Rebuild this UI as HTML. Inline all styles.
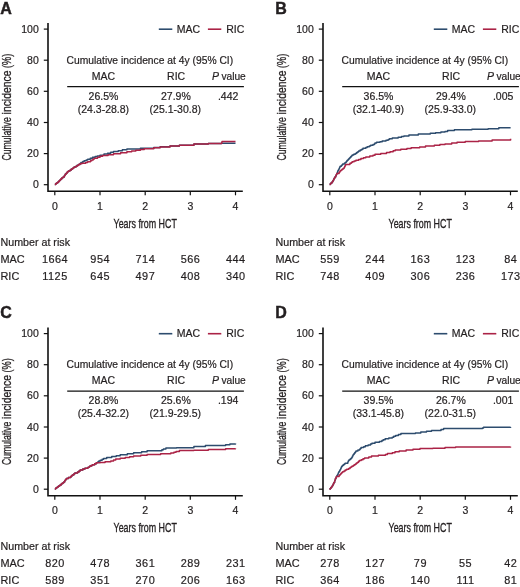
<!DOCTYPE html>
<html><head><meta charset="utf-8"><title>Cumulative incidence</title>
<style>
html,body{margin:0;padding:0;background:#fff;}
body{width:520px;height:587px;overflow:hidden;}
svg{display:block;will-change:transform;font-family:"Liberation Sans", sans-serif;fill:#231f20;}
text{stroke:#231f20;stroke-width:0.2px;}
.yl text{stroke-width:0.3px;}
.pl{stroke-width:0.45px;}
</style></head><body>
<svg width="520" height="587" viewBox="0 0 520 587">
<g>
<text x="0.2" y="13.6" font-size="16" text-anchor="start" font-weight="bold" class="pl">A</text>
<path d="M48.0 23.0V191.2H242.8" fill="none" stroke="#111" stroke-width="1.6"/>
<path d="M43.8 29.1H48.0" stroke="#111" stroke-width="1.2"/>
<text x="38.8" y="32.7" font-size="10.5" text-anchor="end">100</text>
<path d="M43.8 60.2H48.0" stroke="#111" stroke-width="1.2"/>
<text x="38.8" y="63.8" font-size="10.5" text-anchor="end">80</text>
<path d="M43.8 91.3H48.0" stroke="#111" stroke-width="1.2"/>
<text x="38.8" y="94.9" font-size="10.5" text-anchor="end">60</text>
<path d="M43.8 122.5H48.0" stroke="#111" stroke-width="1.2"/>
<text x="38.8" y="126.1" font-size="10.5" text-anchor="end">40</text>
<path d="M43.8 153.6H48.0" stroke="#111" stroke-width="1.2"/>
<text x="38.8" y="157.2" font-size="10.5" text-anchor="end">20</text>
<path d="M43.8 184.7H48.0" stroke="#111" stroke-width="1.2"/>
<text x="38.8" y="188.3" font-size="10.5" text-anchor="end">0</text>
<path d="M54.8 191.0V195.3" stroke="#111" stroke-width="1.2"/>
<text x="54.8" y="209.7" font-size="10.5" text-anchor="middle">0</text>
<path d="M100.0 191.0V195.3" stroke="#111" stroke-width="1.2"/>
<text x="100.0" y="209.7" font-size="10.5" text-anchor="middle">1</text>
<path d="M145.2 191.0V195.3" stroke="#111" stroke-width="1.2"/>
<text x="145.2" y="209.7" font-size="10.5" text-anchor="middle">2</text>
<path d="M190.3 191.0V195.3" stroke="#111" stroke-width="1.2"/>
<text x="190.3" y="209.7" font-size="10.5" text-anchor="middle">3</text>
<path d="M235.5 191.0V195.3" stroke="#111" stroke-width="1.2"/>
<text x="235.5" y="209.7" font-size="10.5" text-anchor="middle">4</text>
<text x="0" y="0" font-size="13" style="stroke-width:0.35px" text-anchor="middle" transform="translate(145.2 227.8) scale(0.684 1)">Years from HCT</text>
<g class="yl" font-size="13.6" transform="translate(11.4 160.2) rotate(-90)"><text x="-0.3" y="0" textLength="43.2" lengthAdjust="spacingAndGlyphs">Cumulative</text><text x="45.8" y="0" textLength="43.8" lengthAdjust="spacingAndGlyphs">incidence</text><text x="92.2" y="0" textLength="14.2" lengthAdjust="spacingAndGlyphs">(%)</text></g>
<path d="M158.8 29.2H172.3" stroke="#2d4c6e" stroke-width="1.6"/>
<text x="176.8" y="32.6" font-size="10.5" text-anchor="start">MAC</text>
<path d="M207.9 29.2H221.3" stroke="#ab2346" stroke-width="1.6"/>
<text x="226.2" y="32.6" font-size="10.5" text-anchor="start">RIC</text>
<text x="66.6" y="63.5" font-size="10.3" text-anchor="start">Cumulative incidence at 4y (95% CI)</text>
<text x="103.5" y="79.7" font-size="10.5" text-anchor="middle">MAC</text>
<text x="176.1" y="79.7" font-size="10.5" text-anchor="middle">RIC</text>
<text x="211.9" y="79.7" font-size="10.5" text-anchor="start" font-style="italic">P</text>
<text x="221.4" y="79.7" font-size="10.2" text-anchor="start">value</text>
<path d="M67.2 86.6H243.9" stroke="#111" stroke-width="1.4"/>
<text x="103.5" y="99.9" font-size="10.5" text-anchor="middle">26.5%</text>
<text x="103.4" y="112.8" font-size="10.5" text-anchor="middle">(24.3-28.8)</text>
<text x="175.9" y="99.9" font-size="10.5" text-anchor="middle">27.9%</text>
<text x="175.3" y="112.8" font-size="10.5" text-anchor="middle">(25.1-30.8)</text>
<text x="228.1" y="99.9" font-size="10.5" text-anchor="middle">.442</text>
<text x="0.5" y="245.9" font-size="10.7" text-anchor="start">Number at risk</text>
<text x="0.5" y="262.7" font-size="10.9" text-anchor="start">MAC</text>
<text x="0.5" y="279.6" font-size="10.9" text-anchor="start">RIC</text>
<text x="55.0" y="262.7" font-size="10.9" text-anchor="middle" letter-spacing="0.5">1664</text>
<text x="55.0" y="279.6" font-size="10.9" text-anchor="middle" letter-spacing="0.5">1125</text>
<text x="100.2" y="262.7" font-size="10.9" text-anchor="middle" letter-spacing="0.5">954</text>
<text x="100.2" y="279.6" font-size="10.9" text-anchor="middle" letter-spacing="0.5">645</text>
<text x="145.4" y="262.7" font-size="10.9" text-anchor="middle" letter-spacing="0.5">714</text>
<text x="145.4" y="279.6" font-size="10.9" text-anchor="middle" letter-spacing="0.5">497</text>
<text x="190.6" y="262.7" font-size="10.9" text-anchor="middle" letter-spacing="0.5">566</text>
<text x="190.6" y="279.6" font-size="10.9" text-anchor="middle" letter-spacing="0.5">408</text>
<text x="235.8" y="262.7" font-size="10.9" text-anchor="middle" letter-spacing="0.5">444</text>
<text x="235.8" y="279.6" font-size="10.9" text-anchor="middle" letter-spacing="0.5">340</text>
<polyline points="54.80,184.60 55.58,184.60 55.58,183.80 56.46,183.80 56.46,183.00 57.67,183.00 57.67,182.20 58.46,182.20 58.46,181.40 59.30,181.40 59.30,180.60 60.20,180.60 60.20,179.80 60.80,179.80 60.80,178.94 61.73,178.94 61.73,178.08 62.78,178.08 62.78,177.22 64.00,177.22 64.00,176.36 64.50,176.36 64.50,175.50 65.02,175.50 65.02,174.77 65.38,174.77 65.38,174.03 66.26,174.03 66.26,173.30 67.06,173.30 67.06,172.57 67.39,172.57 67.39,171.83 68.40,171.83 68.40,171.10 69.91,171.10 69.91,170.20 71.08,170.20 71.08,169.30 72.20,169.30 72.20,168.40 73.31,168.40 73.31,167.67 74.14,167.67 74.14,166.93 76.00,166.93 76.00,166.20 77.09,166.20 77.09,165.33 78.48,165.33 78.48,164.47 80.00,164.47 80.00,163.60 80.93,163.60 80.93,162.60 82.80,162.60 82.80,161.60 84.17,161.60 84.17,160.80 86.20,160.80 86.20,160.00 87.70,160.00 87.70,159.20 90.27,159.20 90.27,158.25 92.50,158.25 92.50,157.30 95.16,157.30 95.16,156.60 97.30,156.60 97.30,155.90 100.00,155.90 100.00,155.20 104.00,155.20 104.00,154.00 107.54,154.00 107.54,153.13 110.69,153.13 110.69,152.27 113.50,152.27 113.50,151.40 118.21,151.40 118.21,150.63 122.36,150.63 122.36,149.87 126.90,149.87 126.90,149.10 140.40,149.10 140.40,148.20 153.80,148.20 153.80,147.40 160.13,147.40 160.13,146.70 170.00,146.70 170.00,146.00 179.40,146.00 179.40,145.20 193.90,145.20 193.90,144.10 208.30,144.10 208.30,143.40 221.30,143.40 221.30,143.20 235.50,143.20 235.50,143.20" fill="none" stroke="#2d4c6e" stroke-width="1.5" stroke-linejoin="round"/>
<polyline points="54.80,184.60 55.58,184.60 55.58,183.80 56.46,183.80 56.46,183.00 57.67,183.00 57.67,182.20 58.46,182.20 58.46,181.40 59.30,181.40 59.30,180.60 60.20,180.60 60.20,179.80 60.80,179.80 60.80,178.94 61.73,178.94 61.73,178.08 62.78,178.08 62.78,177.22 64.00,177.22 64.00,176.36 64.50,176.36 64.50,175.50 65.02,175.50 65.02,174.77 65.38,174.77 65.38,174.03 66.26,174.03 66.26,173.30 67.06,173.30 67.06,172.57 67.39,172.57 67.39,171.83 68.40,171.83 68.40,171.10 69.91,171.10 69.91,170.20 71.08,170.20 71.08,169.30 72.20,169.30 72.20,168.40 73.31,168.40 73.31,167.67 74.14,167.67 74.14,166.93 76.00,166.93 76.00,166.20 77.09,166.20 77.09,165.40 78.48,165.40 78.48,164.60 80.00,164.60 80.00,163.80 81.89,163.80 81.89,163.20 85.70,163.20 85.70,162.60 87.64,162.60 87.64,161.65 90.50,161.65 90.50,160.70 91.75,160.70 91.75,159.90 93.17,159.90 93.17,159.10 94.40,159.10 94.40,158.30 97.50,158.30 97.50,157.30 100.00,157.30 100.00,156.30 102.64,156.30 102.64,155.47 108.07,155.47 108.07,154.63 113.50,154.63 113.50,153.80 120.58,153.80 120.58,152.80 126.90,152.80 126.90,151.80 131.65,151.80 131.65,151.03 135.83,151.03 135.83,150.27 140.40,150.27 140.40,149.50 144.25,149.50 144.25,148.65 153.80,148.65 153.80,147.80 160.13,147.80 160.13,146.90 170.00,146.90 170.00,146.00 179.40,146.00 179.40,145.20 193.90,145.20 193.90,144.10 208.30,144.10 208.30,143.40 221.80,143.40 221.80,143.00 221.86,143.00 221.86,142.20 222.00,142.20 222.00,141.40 235.50,141.40 235.50,141.40" fill="none" stroke="#ab2346" stroke-width="1.5" stroke-linejoin="round"/>
</g>
<g>
<text x="275.2" y="13.6" font-size="16" text-anchor="start" font-weight="bold" class="pl">B</text>
<path d="M323.0 23.0V191.2H517.8" fill="none" stroke="#111" stroke-width="1.6"/>
<path d="M318.8 29.1H323.0" stroke="#111" stroke-width="1.2"/>
<text x="313.8" y="32.7" font-size="10.5" text-anchor="end">100</text>
<path d="M318.8 60.2H323.0" stroke="#111" stroke-width="1.2"/>
<text x="313.8" y="63.8" font-size="10.5" text-anchor="end">80</text>
<path d="M318.8 91.3H323.0" stroke="#111" stroke-width="1.2"/>
<text x="313.8" y="94.9" font-size="10.5" text-anchor="end">60</text>
<path d="M318.8 122.5H323.0" stroke="#111" stroke-width="1.2"/>
<text x="313.8" y="126.1" font-size="10.5" text-anchor="end">40</text>
<path d="M318.8 153.6H323.0" stroke="#111" stroke-width="1.2"/>
<text x="313.8" y="157.2" font-size="10.5" text-anchor="end">20</text>
<path d="M318.8 184.7H323.0" stroke="#111" stroke-width="1.2"/>
<text x="313.8" y="188.3" font-size="10.5" text-anchor="end">0</text>
<path d="M329.8 191.0V195.3" stroke="#111" stroke-width="1.2"/>
<text x="329.8" y="209.7" font-size="10.5" text-anchor="middle">0</text>
<path d="M375.0 191.0V195.3" stroke="#111" stroke-width="1.2"/>
<text x="375.0" y="209.7" font-size="10.5" text-anchor="middle">1</text>
<path d="M420.2 191.0V195.3" stroke="#111" stroke-width="1.2"/>
<text x="420.2" y="209.7" font-size="10.5" text-anchor="middle">2</text>
<path d="M465.3 191.0V195.3" stroke="#111" stroke-width="1.2"/>
<text x="465.3" y="209.7" font-size="10.5" text-anchor="middle">3</text>
<path d="M510.5 191.0V195.3" stroke="#111" stroke-width="1.2"/>
<text x="510.5" y="209.7" font-size="10.5" text-anchor="middle">4</text>
<text x="0" y="0" font-size="13" style="stroke-width:0.35px" text-anchor="middle" transform="translate(420.2 227.8) scale(0.684 1)">Years from HCT</text>
<g class="yl" font-size="13.6" transform="translate(286.4 160.2) rotate(-90)"><text x="-0.3" y="0" textLength="43.2" lengthAdjust="spacingAndGlyphs">Cumulative</text><text x="45.8" y="0" textLength="43.8" lengthAdjust="spacingAndGlyphs">incidence</text><text x="92.2" y="0" textLength="14.2" lengthAdjust="spacingAndGlyphs">(%)</text></g>
<path d="M433.8 29.2H447.3" stroke="#2d4c6e" stroke-width="1.6"/>
<text x="451.8" y="32.6" font-size="10.5" text-anchor="start">MAC</text>
<path d="M482.9 29.2H496.3" stroke="#ab2346" stroke-width="1.6"/>
<text x="501.2" y="32.6" font-size="10.5" text-anchor="start">RIC</text>
<text x="341.6" y="63.5" font-size="10.3" text-anchor="start">Cumulative incidence at 4y (95% CI)</text>
<text x="378.5" y="79.7" font-size="10.5" text-anchor="middle">MAC</text>
<text x="451.1" y="79.7" font-size="10.5" text-anchor="middle">RIC</text>
<text x="486.9" y="79.7" font-size="10.5" text-anchor="start" font-style="italic">P</text>
<text x="496.4" y="79.7" font-size="10.2" text-anchor="start">value</text>
<path d="M342.2 86.6H518.9" stroke="#111" stroke-width="1.4"/>
<text x="378.5" y="99.9" font-size="10.5" text-anchor="middle">36.5%</text>
<text x="378.4" y="112.8" font-size="10.5" text-anchor="middle">(32.1-40.9)</text>
<text x="450.9" y="99.9" font-size="10.5" text-anchor="middle">29.4%</text>
<text x="450.3" y="112.8" font-size="10.5" text-anchor="middle">(25.9-33.0)</text>
<text x="503.1" y="99.9" font-size="10.5" text-anchor="middle">.005</text>
<text x="275.5" y="245.9" font-size="10.7" text-anchor="start">Number at risk</text>
<text x="275.5" y="262.7" font-size="10.9" text-anchor="start">MAC</text>
<text x="275.5" y="279.6" font-size="10.9" text-anchor="start">RIC</text>
<text x="330.1" y="262.7" font-size="10.9" text-anchor="middle" letter-spacing="0.5">559</text>
<text x="330.1" y="279.6" font-size="10.9" text-anchor="middle" letter-spacing="0.5">748</text>
<text x="375.2" y="262.7" font-size="10.9" text-anchor="middle" letter-spacing="0.5">244</text>
<text x="375.2" y="279.6" font-size="10.9" text-anchor="middle" letter-spacing="0.5">409</text>
<text x="420.4" y="262.7" font-size="10.9" text-anchor="middle" letter-spacing="0.5">163</text>
<text x="420.4" y="279.6" font-size="10.9" text-anchor="middle" letter-spacing="0.5">306</text>
<text x="465.6" y="262.7" font-size="10.9" text-anchor="middle" letter-spacing="0.5">123</text>
<text x="465.6" y="279.6" font-size="10.9" text-anchor="middle" letter-spacing="0.5">236</text>
<text x="510.8" y="262.7" font-size="10.9" text-anchor="middle" letter-spacing="0.5">84</text>
<text x="510.8" y="279.6" font-size="10.9" text-anchor="middle" letter-spacing="0.5">173</text>
<polyline points="329.60,184.60 330.24,184.60 330.24,183.75 330.96,183.75 330.96,182.90 331.95,182.90 331.95,182.05 332.60,182.05 332.60,181.20 333.07,181.20 333.07,180.38 333.59,180.38 333.59,179.56 333.89,179.56 333.89,178.74 334.36,178.74 334.36,177.92 334.90,177.92 334.90,177.10 335.65,177.10 335.65,176.20 335.95,176.20 335.95,175.30 336.39,175.30 336.39,174.40 336.70,174.40 336.70,173.50 337.30,173.50 337.30,172.30 337.68,172.30 337.68,171.53 337.83,171.53 337.83,170.76 338.31,170.76 338.31,169.99 338.79,169.99 338.79,169.21 339.15,169.21 339.15,168.44 339.51,168.44 339.51,167.67 339.70,167.67 339.70,166.90 340.22,166.90 340.22,166.15 341.38,166.15 341.38,165.40 341.96,165.40 341.96,164.65 342.70,164.65 342.70,163.90 344.50,163.90 344.50,163.05 345.70,163.05 345.70,162.20 346.32,162.20 346.32,161.40 346.93,161.40 346.93,160.60 347.83,160.60 347.83,159.80 348.50,159.80 348.50,159.00 349.25,159.00 349.25,158.20 349.90,158.20 349.90,157.40 350.79,157.40 350.79,156.60 351.50,156.60 351.50,155.80 352.24,155.80 352.24,155.00 353.76,155.00 353.76,154.20 355.27,154.20 355.27,153.40 356.62,153.40 356.62,152.60 357.82,152.60 357.82,151.80 358.60,151.80 358.60,151.00 360.13,151.00 360.13,150.10 361.81,150.10 361.81,149.20 362.96,149.20 362.96,148.30 365.80,148.30 365.80,147.40 367.17,147.40 367.17,146.68 369.32,146.68 369.32,145.95 370.67,145.95 370.67,145.22 373.00,145.22 373.00,144.50 374.51,144.50 374.51,143.80 375.00,143.80 375.00,143.10 376.57,143.10 376.57,142.37 379.95,142.37 379.95,141.63 382.20,141.63 382.20,140.90 385.99,140.90 385.99,140.18 388.18,140.18 388.18,139.45 389.47,139.45 389.47,138.72 392.30,138.72 392.30,138.00 398.15,138.00 398.15,137.30 401.48,137.30 401.48,136.60 403.90,136.60 403.90,135.90 408.93,135.90 408.93,134.95 418.30,134.95 418.30,134.00 430.25,134.00 430.25,133.35 435.60,133.35 435.60,132.70 440.90,132.70 440.90,132.05 445.00,132.05 445.00,131.40 447.61,131.40 447.61,130.55 454.40,130.55 454.40,129.70 471.90,129.70 471.90,129.20 488.10,129.20 488.10,128.70 498.80,128.70 498.80,127.80 510.60,127.80 510.60,127.80" fill="none" stroke="#2d4c6e" stroke-width="1.5" stroke-linejoin="round"/>
<polyline points="329.60,184.60 330.24,184.60 330.24,183.75 330.96,183.75 330.96,182.90 331.95,182.90 331.95,182.05 332.60,182.05 332.60,181.20 333.07,181.20 333.07,180.38 333.59,180.38 333.59,179.56 333.89,179.56 333.89,178.74 334.36,178.74 334.36,177.92 334.90,177.92 334.90,177.10 335.65,177.10 335.65,176.20 335.95,176.20 335.95,175.30 336.39,175.30 336.39,174.40 336.70,174.40 336.70,173.50 339.10,173.50 339.10,172.30 339.87,172.30 339.87,171.55 340.18,171.55 340.18,170.80 341.14,170.80 341.14,170.05 342.10,170.05 342.10,169.30 343.06,169.30 343.06,168.50 343.99,168.50 343.99,167.70 344.50,167.70 344.50,166.90 344.78,166.90 344.78,166.10 345.39,166.10 345.39,165.30 345.70,165.30 345.70,164.50 349.90,164.50 349.90,163.30 351.29,163.30 351.29,162.52 352.22,162.52 352.22,161.74 354.09,161.74 354.09,160.96 355.91,160.96 355.91,160.18 358.60,160.18 358.60,159.40 360.91,159.40 360.91,158.60 363.53,158.60 363.53,157.80 365.80,157.80 365.80,157.00 369.78,157.00 369.78,156.10 373.00,156.10 373.00,155.20 375.00,155.20 375.00,154.30 380.75,154.30 380.75,153.40 386.50,153.40 386.50,152.50 390.02,152.50 390.02,151.67 393.17,151.67 393.17,150.83 395.20,150.83 395.20,150.00 400.80,150.00 400.80,149.27 406.92,149.27 406.92,148.53 411.10,148.53 411.10,147.80 419.64,147.80 419.64,146.90 425.50,146.90 425.50,146.00 434.33,146.00 434.33,145.25 439.90,145.25 439.90,144.50 445.00,144.50 445.00,144.10 451.70,144.10 451.70,142.90 457.05,142.90 457.05,142.20 465.20,142.20 465.20,141.50 478.60,141.50 478.60,140.90 492.10,140.90 492.10,139.90 510.60,139.90 510.60,138.80" fill="none" stroke="#ab2346" stroke-width="1.5" stroke-linejoin="round"/>
</g>
<g>
<text x="0.2" y="318.3" font-size="16" text-anchor="start" font-weight="bold" class="pl">C</text>
<path d="M48.0 327.5V495.7H242.8" fill="none" stroke="#111" stroke-width="1.6"/>
<path d="M43.8 333.6H48.0" stroke="#111" stroke-width="1.2"/>
<text x="38.8" y="337.2" font-size="10.5" text-anchor="end">100</text>
<path d="M43.8 364.7H48.0" stroke="#111" stroke-width="1.2"/>
<text x="38.8" y="368.3" font-size="10.5" text-anchor="end">80</text>
<path d="M43.8 395.8H48.0" stroke="#111" stroke-width="1.2"/>
<text x="38.8" y="399.4" font-size="10.5" text-anchor="end">60</text>
<path d="M43.8 427.0H48.0" stroke="#111" stroke-width="1.2"/>
<text x="38.8" y="430.6" font-size="10.5" text-anchor="end">40</text>
<path d="M43.8 458.1H48.0" stroke="#111" stroke-width="1.2"/>
<text x="38.8" y="461.7" font-size="10.5" text-anchor="end">20</text>
<path d="M43.8 489.2H48.0" stroke="#111" stroke-width="1.2"/>
<text x="38.8" y="492.8" font-size="10.5" text-anchor="end">0</text>
<path d="M54.8 495.5V499.8" stroke="#111" stroke-width="1.2"/>
<text x="54.8" y="514.2" font-size="10.5" text-anchor="middle">0</text>
<path d="M100.0 495.5V499.8" stroke="#111" stroke-width="1.2"/>
<text x="100.0" y="514.2" font-size="10.5" text-anchor="middle">1</text>
<path d="M145.2 495.5V499.8" stroke="#111" stroke-width="1.2"/>
<text x="145.2" y="514.2" font-size="10.5" text-anchor="middle">2</text>
<path d="M190.3 495.5V499.8" stroke="#111" stroke-width="1.2"/>
<text x="190.3" y="514.2" font-size="10.5" text-anchor="middle">3</text>
<path d="M235.5 495.5V499.8" stroke="#111" stroke-width="1.2"/>
<text x="235.5" y="514.2" font-size="10.5" text-anchor="middle">4</text>
<text x="0" y="0" font-size="13" style="stroke-width:0.35px" text-anchor="middle" transform="translate(145.2 532.3) scale(0.684 1)">Years from HCT</text>
<g class="yl" font-size="13.6" transform="translate(11.4 464.7) rotate(-90)"><text x="-0.3" y="0" textLength="43.2" lengthAdjust="spacingAndGlyphs">Cumulative</text><text x="45.8" y="0" textLength="43.8" lengthAdjust="spacingAndGlyphs">incidence</text><text x="92.2" y="0" textLength="14.2" lengthAdjust="spacingAndGlyphs">(%)</text></g>
<path d="M158.8 333.7H172.3" stroke="#2d4c6e" stroke-width="1.6"/>
<text x="176.8" y="337.1" font-size="10.5" text-anchor="start">MAC</text>
<path d="M207.9 333.7H221.3" stroke="#ab2346" stroke-width="1.6"/>
<text x="226.2" y="337.1" font-size="10.5" text-anchor="start">RIC</text>
<text x="66.6" y="368.0" font-size="10.3" text-anchor="start">Cumulative incidence at 4y (95% CI)</text>
<text x="103.5" y="384.2" font-size="10.5" text-anchor="middle">MAC</text>
<text x="176.1" y="384.2" font-size="10.5" text-anchor="middle">RIC</text>
<text x="211.9" y="384.2" font-size="10.5" text-anchor="start" font-style="italic">P</text>
<text x="221.4" y="384.2" font-size="10.2" text-anchor="start">value</text>
<path d="M67.2 391.1H243.9" stroke="#111" stroke-width="1.4"/>
<text x="103.5" y="404.4" font-size="10.5" text-anchor="middle">28.8%</text>
<text x="103.4" y="417.3" font-size="10.5" text-anchor="middle">(25.4-32.2)</text>
<text x="175.9" y="404.4" font-size="10.5" text-anchor="middle">25.6%</text>
<text x="175.3" y="417.3" font-size="10.5" text-anchor="middle">(21.9-29.5)</text>
<text x="228.1" y="404.4" font-size="10.5" text-anchor="middle">.194</text>
<text x="0.5" y="550.4" font-size="10.7" text-anchor="start">Number at risk</text>
<text x="0.5" y="567.2" font-size="10.9" text-anchor="start">MAC</text>
<text x="0.5" y="584.1" font-size="10.9" text-anchor="start">RIC</text>
<text x="55.0" y="567.2" font-size="10.9" text-anchor="middle" letter-spacing="0.5">820</text>
<text x="55.0" y="584.1" font-size="10.9" text-anchor="middle" letter-spacing="0.5">589</text>
<text x="100.2" y="567.2" font-size="10.9" text-anchor="middle" letter-spacing="0.5">478</text>
<text x="100.2" y="584.1" font-size="10.9" text-anchor="middle" letter-spacing="0.5">351</text>
<text x="145.4" y="567.2" font-size="10.9" text-anchor="middle" letter-spacing="0.5">361</text>
<text x="145.4" y="584.1" font-size="10.9" text-anchor="middle" letter-spacing="0.5">270</text>
<text x="190.6" y="567.2" font-size="10.9" text-anchor="middle" letter-spacing="0.5">289</text>
<text x="190.6" y="584.1" font-size="10.9" text-anchor="middle" letter-spacing="0.5">206</text>
<text x="235.8" y="567.2" font-size="10.9" text-anchor="middle" letter-spacing="0.5">231</text>
<text x="235.8" y="584.1" font-size="10.9" text-anchor="middle" letter-spacing="0.5">163</text>
<polyline points="54.80,489.00 55.59,489.00 55.59,488.25 56.48,488.25 56.48,487.50 57.70,487.50 57.70,486.75 58.50,486.75 58.50,486.00 59.68,486.00 59.68,485.18 60.96,485.18 60.96,484.35 61.72,484.35 61.72,483.52 62.90,483.52 62.90,482.70 63.71,482.70 63.71,481.90 64.65,481.90 64.65,481.10 65.04,481.10 65.04,480.30 65.60,480.30 65.60,479.50 66.41,479.50 66.41,478.50 68.40,478.50 68.40,477.50 70.68,477.50 70.68,476.55 71.60,476.55 71.60,475.60 72.80,475.60 72.80,474.70 73.98,474.70 73.98,473.80 74.90,473.80 74.90,472.90 77.55,472.90 77.55,471.95 79.00,471.95 79.00,471.00 80.17,471.00 80.17,470.00 82.80,470.00 82.80,469.00 84.95,469.00 84.95,468.30 87.70,468.30 87.70,467.60 88.81,467.60 88.81,466.88 89.55,466.88 89.55,466.15 91.05,466.15 91.05,465.43 92.50,465.43 92.50,464.70 94.68,464.70 94.68,463.75 96.30,463.75 96.30,462.80 97.65,462.80 97.65,461.93 98.82,461.93 98.82,461.07 100.20,461.07 100.20,460.20 102.10,460.20 102.10,459.30 103.60,459.30 103.60,458.40 106.70,458.40 106.70,457.50 111.73,457.50 111.73,456.60 116.21,456.60 116.21,455.70 120.20,455.70 120.20,454.80 127.33,454.80 127.33,453.80 133.60,453.80 133.60,452.80 141.62,452.80 141.62,451.80 147.10,451.80 147.10,450.80 161.90,450.80 161.90,449.70 163.46,449.70 163.46,448.90 165.90,448.90 165.90,448.10 176.50,448.10 176.50,447.70 193.90,447.70 193.90,446.50 205.40,446.50 205.40,445.40 225.60,445.40 225.60,444.80 229.90,444.80 229.90,443.90 235.50,443.90 235.50,443.40" fill="none" stroke="#2d4c6e" stroke-width="1.5" stroke-linejoin="round"/>
<polyline points="54.80,489.00 55.59,489.00 55.59,488.25 56.48,488.25 56.48,487.50 57.70,487.50 57.70,486.75 58.50,486.75 58.50,486.00 59.68,486.00 59.68,485.18 60.96,485.18 60.96,484.35 61.72,484.35 61.72,483.52 62.90,483.52 62.90,482.70 63.71,482.70 63.71,481.90 64.65,481.90 64.65,481.10 65.04,481.10 65.04,480.30 65.60,480.30 65.60,479.50 66.41,479.50 66.41,478.50 68.40,478.50 68.40,477.50 70.68,477.50 70.68,476.55 71.60,476.55 71.60,475.60 72.80,475.60 72.80,474.70 73.98,474.70 73.98,473.80 74.90,473.80 74.90,472.90 77.55,472.90 77.55,471.95 79.00,471.95 79.00,471.00 80.17,471.00 80.17,470.00 82.80,470.00 82.80,469.00 84.95,469.00 84.95,468.30 87.70,468.30 87.70,467.60 88.81,467.60 88.81,466.88 89.55,466.88 89.55,466.15 91.05,466.15 91.05,465.43 92.50,465.43 92.50,464.70 94.68,464.70 94.68,463.75 96.30,463.75 96.30,462.80 100.20,462.80 100.20,462.40 105.06,462.40 105.06,461.65 110.80,461.65 110.80,460.90 113.55,460.90 113.55,460.00 115.72,460.00 115.72,459.10 120.20,459.10 120.20,458.20 125.20,458.20 125.20,457.43 129.63,457.43 129.63,456.67 133.60,456.67 133.60,455.90 140.78,455.90 140.78,455.20 147.10,455.20 147.10,454.50 160.60,454.50 160.60,453.70 170.80,453.70 170.80,453.00 173.92,453.00 173.92,452.20 176.06,452.20 176.06,451.40 179.40,451.40 179.40,450.60 193.90,450.60 193.90,450.20 208.30,450.20 208.30,449.40 225.60,449.40 225.60,448.70 235.50,448.70 235.50,448.40" fill="none" stroke="#ab2346" stroke-width="1.5" stroke-linejoin="round"/>
</g>
<g>
<text x="275.2" y="318.3" font-size="16" text-anchor="start" font-weight="bold" class="pl">D</text>
<path d="M323.0 327.5V495.7H517.8" fill="none" stroke="#111" stroke-width="1.6"/>
<path d="M318.8 333.6H323.0" stroke="#111" stroke-width="1.2"/>
<text x="313.8" y="337.2" font-size="10.5" text-anchor="end">100</text>
<path d="M318.8 364.7H323.0" stroke="#111" stroke-width="1.2"/>
<text x="313.8" y="368.3" font-size="10.5" text-anchor="end">80</text>
<path d="M318.8 395.8H323.0" stroke="#111" stroke-width="1.2"/>
<text x="313.8" y="399.4" font-size="10.5" text-anchor="end">60</text>
<path d="M318.8 427.0H323.0" stroke="#111" stroke-width="1.2"/>
<text x="313.8" y="430.6" font-size="10.5" text-anchor="end">40</text>
<path d="M318.8 458.1H323.0" stroke="#111" stroke-width="1.2"/>
<text x="313.8" y="461.7" font-size="10.5" text-anchor="end">20</text>
<path d="M318.8 489.2H323.0" stroke="#111" stroke-width="1.2"/>
<text x="313.8" y="492.8" font-size="10.5" text-anchor="end">0</text>
<path d="M329.8 495.5V499.8" stroke="#111" stroke-width="1.2"/>
<text x="329.8" y="514.2" font-size="10.5" text-anchor="middle">0</text>
<path d="M375.0 495.5V499.8" stroke="#111" stroke-width="1.2"/>
<text x="375.0" y="514.2" font-size="10.5" text-anchor="middle">1</text>
<path d="M420.2 495.5V499.8" stroke="#111" stroke-width="1.2"/>
<text x="420.2" y="514.2" font-size="10.5" text-anchor="middle">2</text>
<path d="M465.3 495.5V499.8" stroke="#111" stroke-width="1.2"/>
<text x="465.3" y="514.2" font-size="10.5" text-anchor="middle">3</text>
<path d="M510.5 495.5V499.8" stroke="#111" stroke-width="1.2"/>
<text x="510.5" y="514.2" font-size="10.5" text-anchor="middle">4</text>
<text x="0" y="0" font-size="13" style="stroke-width:0.35px" text-anchor="middle" transform="translate(420.2 532.3) scale(0.684 1)">Years from HCT</text>
<g class="yl" font-size="13.6" transform="translate(286.4 464.7) rotate(-90)"><text x="-0.3" y="0" textLength="43.2" lengthAdjust="spacingAndGlyphs">Cumulative</text><text x="45.8" y="0" textLength="43.8" lengthAdjust="spacingAndGlyphs">incidence</text><text x="92.2" y="0" textLength="14.2" lengthAdjust="spacingAndGlyphs">(%)</text></g>
<path d="M433.8 333.7H447.3" stroke="#2d4c6e" stroke-width="1.6"/>
<text x="451.8" y="337.1" font-size="10.5" text-anchor="start">MAC</text>
<path d="M482.9 333.7H496.3" stroke="#ab2346" stroke-width="1.6"/>
<text x="501.2" y="337.1" font-size="10.5" text-anchor="start">RIC</text>
<text x="341.6" y="368.0" font-size="10.3" text-anchor="start">Cumulative incidence at 4y (95% CI)</text>
<text x="378.5" y="384.2" font-size="10.5" text-anchor="middle">MAC</text>
<text x="451.1" y="384.2" font-size="10.5" text-anchor="middle">RIC</text>
<text x="486.9" y="384.2" font-size="10.5" text-anchor="start" font-style="italic">P</text>
<text x="496.4" y="384.2" font-size="10.2" text-anchor="start">value</text>
<path d="M342.2 391.1H518.9" stroke="#111" stroke-width="1.4"/>
<text x="378.5" y="404.4" font-size="10.5" text-anchor="middle">39.5%</text>
<text x="378.4" y="417.3" font-size="10.5" text-anchor="middle">(33.1-45.8)</text>
<text x="450.9" y="404.4" font-size="10.5" text-anchor="middle">26.7%</text>
<text x="450.3" y="417.3" font-size="10.5" text-anchor="middle">(22.0-31.5)</text>
<text x="503.1" y="404.4" font-size="10.5" text-anchor="middle">.001</text>
<text x="275.5" y="550.4" font-size="10.7" text-anchor="start">Number at risk</text>
<text x="275.5" y="567.2" font-size="10.9" text-anchor="start">MAC</text>
<text x="275.5" y="584.1" font-size="10.9" text-anchor="start">RIC</text>
<text x="330.1" y="567.2" font-size="10.9" text-anchor="middle" letter-spacing="0.5">278</text>
<text x="330.1" y="584.1" font-size="10.9" text-anchor="middle" letter-spacing="0.5">364</text>
<text x="375.2" y="567.2" font-size="10.9" text-anchor="middle" letter-spacing="0.5">127</text>
<text x="375.2" y="584.1" font-size="10.9" text-anchor="middle" letter-spacing="0.5">186</text>
<text x="420.4" y="567.2" font-size="10.9" text-anchor="middle" letter-spacing="0.5">79</text>
<text x="420.4" y="584.1" font-size="10.9" text-anchor="middle" letter-spacing="0.5">140</text>
<text x="465.6" y="567.2" font-size="10.9" text-anchor="middle" letter-spacing="0.5">55</text>
<text x="465.6" y="584.1" font-size="10.9" text-anchor="middle" letter-spacing="0.5">111</text>
<text x="510.8" y="567.2" font-size="10.9" text-anchor="middle" letter-spacing="0.5">42</text>
<text x="510.8" y="584.1" font-size="10.9" text-anchor="middle" letter-spacing="0.5">81</text>
<polyline points="329.60,489.30 330.10,489.30 330.10,488.56 330.67,488.56 330.67,487.82 331.45,487.82 331.45,487.08 331.96,487.08 331.96,486.34 332.50,486.34 332.50,485.60 332.96,485.60 332.96,484.74 333.23,484.74 333.23,483.88 333.66,483.88 333.66,483.02 334.14,483.02 334.14,482.16 334.70,482.16 334.70,481.30 334.89,481.30 334.89,480.48 335.16,480.48 335.16,479.67 335.35,479.67 335.35,478.85 335.81,478.85 335.81,478.03 336.23,478.03 336.23,477.22 336.40,477.22 336.40,476.40 336.94,476.40 336.94,475.62 337.47,475.62 337.47,474.84 337.89,474.84 337.89,474.06 338.28,474.06 338.28,473.28 338.50,473.28 338.50,472.50 338.80,472.50 338.80,471.74 339.47,471.74 339.47,470.98 339.81,470.98 339.81,470.22 340.23,470.22 340.23,469.46 340.70,469.46 340.70,468.70 340.92,468.70 340.92,467.90 341.35,467.90 341.35,467.10 341.77,467.10 341.77,466.30 342.40,466.30 342.40,465.50 343.27,465.50 343.27,464.77 344.25,464.77 344.25,464.03 345.10,464.03 345.10,463.30 347.80,463.30 347.80,462.20 348.12,462.20 348.12,461.47 348.38,461.47 348.38,460.73 348.90,460.73 348.90,460.00 349.89,460.00 349.89,459.22 350.76,459.22 350.76,458.44 351.55,458.44 351.55,457.66 352.05,457.66 352.05,456.88 352.50,456.88 352.50,456.10 352.97,456.10 352.97,455.25 353.29,455.25 353.29,454.40 354.08,454.40 354.08,453.55 354.62,453.55 354.62,452.70 355.47,452.70 355.47,451.85 356.00,451.85 356.00,451.00 357.92,451.00 357.92,450.12 359.67,450.12 359.67,449.25 360.24,449.25 360.24,448.38 361.10,448.38 361.10,447.50 363.68,447.50 363.68,446.63 365.39,446.63 365.39,445.77 368.10,445.77 368.10,444.90 370.49,444.90 370.49,444.03 371.91,444.03 371.91,443.17 375.00,443.17 375.00,442.30 379.40,442.30 379.40,441.45 381.90,441.45 381.90,440.60 383.20,440.60 383.20,439.73 385.16,439.73 385.16,438.87 388.80,438.87 388.80,438.00 392.24,438.00 392.24,437.13 393.78,437.13 393.78,436.27 395.70,436.27 395.70,435.40 398.41,435.40 398.41,434.40 400.90,434.40 400.90,433.40 415.40,433.40 415.40,433.00 420.80,433.00 420.80,432.10 426.48,432.10 426.48,431.30 431.50,431.30 431.50,430.50 441.00,430.50 441.00,429.40 443.60,429.40 443.60,428.40 482.50,428.40 482.50,428.10 483.50,428.10 483.50,427.30 510.60,427.30 510.60,427.10" fill="none" stroke="#2d4c6e" stroke-width="1.5" stroke-linejoin="round"/>
<polyline points="329.60,489.30 330.10,489.30 330.10,488.56 330.67,488.56 330.67,487.82 331.45,487.82 331.45,487.08 331.96,487.08 331.96,486.34 332.50,486.34 332.50,485.60 332.96,485.60 332.96,484.74 333.23,484.74 333.23,483.88 333.66,483.88 333.66,483.02 334.14,483.02 334.14,482.16 334.70,482.16 334.70,481.30 334.89,481.30 334.89,480.48 335.16,480.48 335.16,479.67 335.35,479.67 335.35,478.85 335.81,478.85 335.81,478.03 336.23,478.03 336.23,477.22 336.40,477.22 336.40,476.40 339.10,476.40 339.10,475.30 339.97,475.30 339.97,474.57 340.65,474.57 340.65,473.83 341.30,473.83 341.30,473.10 342.09,473.10 342.09,472.37 342.68,472.37 342.68,471.63 344.00,471.63 344.00,470.90 345.18,470.90 345.18,470.10 346.70,470.10 346.70,469.30 348.68,469.30 348.68,468.45 350.00,468.45 350.00,467.60 350.94,467.60 350.94,466.90 351.85,466.90 351.85,466.20 353.20,466.20 353.20,465.50 354.20,465.50 354.20,464.80 355.39,464.80 355.39,463.94 356.42,463.94 356.42,463.08 357.64,463.08 357.64,462.22 358.62,462.22 358.62,461.36 359.40,461.36 359.40,460.50 361.20,460.50 361.20,459.63 363.00,459.63 363.00,458.77 364.60,458.77 364.60,457.90 368.79,457.90 368.79,457.00 371.50,457.00 371.50,456.10 378.40,456.10 378.40,455.30 385.40,455.30 385.40,454.40 387.38,454.40 387.38,453.55 392.30,453.55 392.30,452.70 395.00,452.70 395.00,451.85 399.20,451.85 399.20,451.00 406.10,451.00 406.10,450.10 413.00,450.10 413.00,449.20 420.00,449.20 420.00,448.40 432.90,448.40 432.90,448.30 445.00,448.30 445.00,447.60 455.60,447.60 455.60,447.10 510.60,447.10 510.60,446.70" fill="none" stroke="#ab2346" stroke-width="1.5" stroke-linejoin="round"/>
</g>
</svg>
</body></html>
